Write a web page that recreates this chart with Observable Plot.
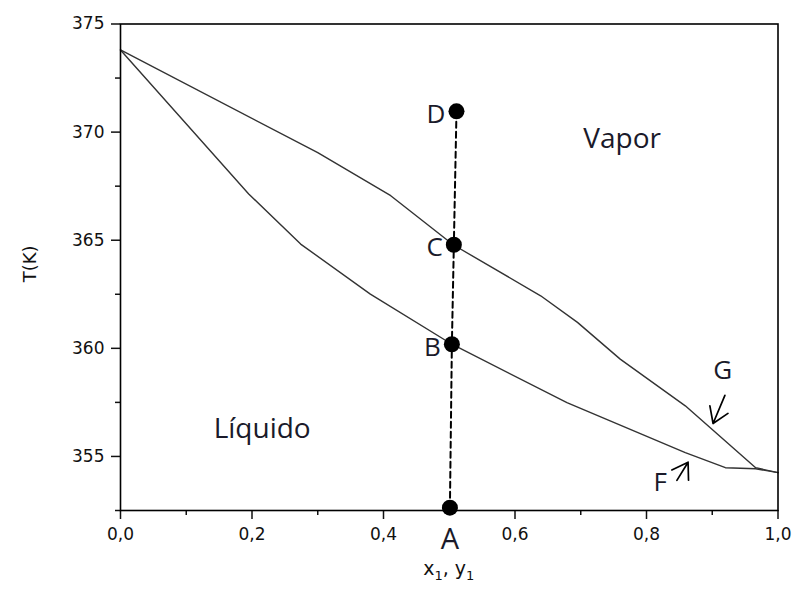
<!DOCTYPE html>
<html>
<head>
<meta charset="utf-8">
<script src="https://cdn.jsdelivr.net/npm/d3@7"></script>
<script src="https://cdn.jsdelivr.net/npm/@observablehq/plot@0.6"></script>
<style>
  html, body { margin: 0; padding: 0; background: #fff; }
</style>
</head>
<body>
<div id="chart"></div>
<script>
// Dew-point curve (vapour line), T in K vs mole fraction y1
const dewX = [0, 0.30, 0.411, 0.506, 0.639, 0.695, 0.760, 0.859, 0.966, 1.0];
const dewT = [373.8, 369.05, 367.06, 364.79, 362.43, 361.2, 359.5, 357.34, 354.48, 354.25];

// Bubble-point curve (liquid line), T in K vs mole fraction x1
const bubX = [0, 0.195, 0.274, 0.380, 0.504, 0.679, 0.859, 0.920, 0.966, 1.0];
const bubT = [373.8, 367.14, 364.82, 362.51, 360.19, 357.49, 355.18, 354.48, 354.43, 354.25];

// States A–D along the vertical heating path
const stateNames = ["A", "B", "C", "D"];
const stateX = [0.501, 0.504, 0.507, 0.511];
const stateT = [352.63, 360.19, 364.79, 370.96];

// Region labels
const regionNames = ["Vapor", "Líquido"];
const regionX = [0.763, 0.2155];
const regionT = [369.69, 356.26];

// Curve markers F and G with their arrows (tail -> tip)
const markNames = ["G", "F"];
const markX = [0.916, 0.821];
const markT = [358.96, 353.77];
const arrowFromX = [0.920, 0.847];
const arrowFromT = [357.80, 353.87];
const arrowToX = [0.902, 0.864];
const arrowToT = [356.50, 354.71];

// Axis ticks
const xMajor = [0, 0.2, 0.4, 0.6, 0.8, 1.0];
const xMinor = [0.1, 0.3, 0.5, 0.7, 0.9];
const yMajor = [355, 360, 365, 370, 375];
const yMinor = [352.5, 357.5, 362.5, 367.5, 372.5];

const dew = dewX.map((x, i) => ({x, T: dewT[i]}));
const bubble = bubX.map((x, i) => ({x, T: bubT[i]}));
const states = stateNames.map((name, i) => ({name, x: stateX[i], T: stateT[i]}));
const regions = regionNames.map((name, i) => ({name, x: regionX[i], T: regionT[i]}));
const markers = markNames.map((name, i) => ({
  name, x: markX[i], T: markT[i],
  x1: arrowFromX[i], y1: arrowFromT[i], x2: arrowToX[i], y2: arrowToT[i]
}));

const comma = d => d.toFixed(1).replace(".", ",");
const labelFont = "Open Sans";
const axisFont = "DejaVu Sans";
const inkColor = "#1a1a2a";

// Open "V" arrowheads with long wings, positioned through the x/y scales
function openArrows(index, scales) {
  const g = d3.create("svg:g")
    .attr("fill", "none")
    .attr("stroke", "#000")
    .attr("stroke-width", 1.7)
    .attr("stroke-linecap", "round")
    .attr("stroke-linejoin", "round");
  const wing = 18, half = 33 * Math.PI / 180;
  for (const m of markers) {
    const tx = scales.x(m.x1), ty = scales.y(m.y1);
    const hx = scales.x(m.x2), hy = scales.y(m.y2);
    const back = Math.atan2(ty - hy, tx - hx);
    const w1 = [hx + wing * Math.cos(back - half), hy + wing * Math.sin(back - half)];
    const w2 = [hx + wing * Math.cos(back + half), hy + wing * Math.sin(back + half)];
    g.append("path")
      .attr("d", `M${tx},${ty}L${hx},${hy}M${w1[0]},${w1[1]}L${hx},${hy}L${w2[0]},${w2[1]}`);
  }
  return g.node();
}

// x-axis title with true subscripts
function xTitle(index, scales, values, dimensions) {
  const {width, marginLeft, marginRight, height, marginBottom} = dimensions;
  const cx = marginLeft + (width - marginLeft - marginRight) / 2;
  const t = d3.create("svg:text")
    .attr("x", cx)
    .attr("y", height - marginBottom + 65)
    .attr("text-anchor", "middle")
    .attr("font-family", axisFont)
    .attr("font-size", 19)
    .attr("fill", "#111");
  t.append("tspan").text("x");
  t.append("tspan").attr("dy", 5).attr("font-size", 13).text("1");
  t.append("tspan").attr("dy", -5).text(", y");
  t.append("tspan").attr("dy", 5).attr("font-size", 13).text("1");
  return t.node();
}

const chart = Plot.plot({
  width: 795,
  height: 590,
  marginLeft: 120,
  marginRight: 17.5,
  marginTop: 23.5,
  marginBottom: 80,
  x: {domain: [0, 1]},
  y: {domain: [352.5, 375]},
  style: {fontFamily: axisFont, fontSize: "17px", color: "#111", background: "#fff"},
  marks: [
    // phase envelope
    Plot.line(dew, {x: "x", y: "T", stroke: "#333", strokeWidth: 1.4}),
    Plot.line(bubble, {x: "x", y: "T", stroke: "#333", strokeWidth: 1.4}),

    // dashed heating path through A, B, C, D
    Plot.line(states, {x: "x", y: "T", stroke: "#000", strokeWidth: 2, strokeDasharray: "6,4"}),

    // axes with major and minor ticks
    Plot.axisX(xMajor, {tickSize: 9, tickPadding: 8, tickFormat: comma, label: null, strokeWidth: 1.5, fontSize: 17, fontFamily: axisFont}),
    Plot.axisX(xMinor, {tickSize: 5, tickFormat: () => "", label: null, strokeWidth: 1.5}),
    Plot.axisY(yMajor, {tickSize: 9, tickPadding: 7, tickFormat: d => String(d), label: null, strokeWidth: 1.5, fontSize: 17, fontFamily: axisFont}),
    Plot.axisY(yMinor, {tickSize: 5, tickFormat: () => "", label: null, strokeWidth: 1.5}),
    Plot.frame({stroke: "#000", strokeWidth: 1.6}),

    // state points
    Plot.dot(states, {x: "x", y: "T", r: 8, fill: "#000"}),
    Plot.text(states.filter(d => d.name !== "A"), {
      x: "x", y: "T", text: "name", dx: -11, dy: 3, textAnchor: "end",
      fontFamily: labelFont, fontSize: 26, fill: inkColor
    }),
    Plot.text(states.filter(d => d.name === "A"), {
      x: "x", y: "T", text: "name", dy: 32,
      fontFamily: labelFont, fontSize: 29, fill: inkColor
    }),

    // region labels
    Plot.text(regions, {
      x: "x", y: "T", text: "name",
      fontFamily: labelFont, fontSize: 28, fill: inkColor
    }),

    // F and G markers
    Plot.text(markers, {
      x: "x", y: "T", text: "name",
      fontFamily: labelFont, fontSize: 26, fill: inkColor
    }),
    openArrows,

    // axis titles
    xTitle,
    Plot.text(["T(K)"], {
      frameAnchor: "left", dx: -90, dy: 15, text: d => d, rotate: -90,
      fontSize: 18, fontFamily: axisFont, fill: "#111"
    })
  ]
});

document.getElementById("chart").appendChild(chart);
</script>
</body>
</html>
